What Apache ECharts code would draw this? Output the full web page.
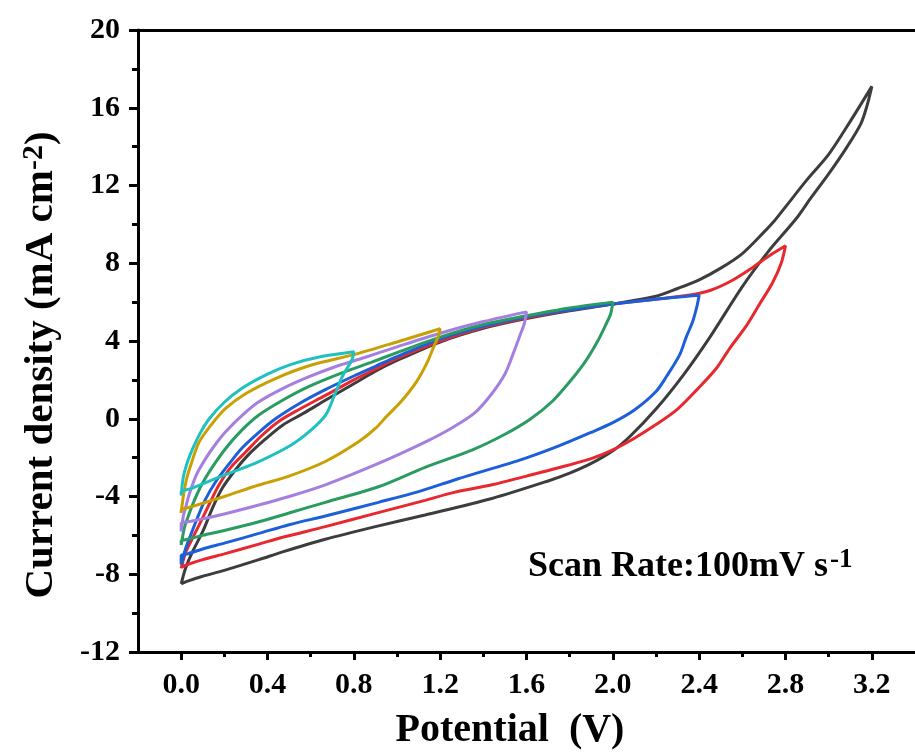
<!DOCTYPE html>
<html>
<head>
<meta charset="utf-8">
<script src="https://cdn.jsdelivr.net/npm/echarts@6/dist/echarts.min.js"></script>
<style>html,body{margin:0;padding:0;background:#fff}#c{width:915px;height:754px}</style>
</head>
<body>
<div id="c"></div>
<script>
// Potential windows (V)
const windows = ['0-3.2 V', '0-2.8 V', '0-2.4 V', '0-2.0 V', '0-1.6 V', '0-1.2 V', '0-0.8 V'];
const colors = ['#3d3d3d', '#e8282f', '#1c5fd8', '#2a9b61', '#a47fe0', '#c9a004', '#1fc1c0'];
const xMajor = [0, 0.4, 0.8, 1.2, 1.6, 2.0, 2.4, 2.8, 3.2];
const xMinor = [0.2, 0.6, 1.0, 1.4, 1.8, 2.2, 2.6, 3.0];

// [potential V, current density mA cm-2]
const loop32 = [[0,-8.5],[0.02,-7.7],[0.05,-6.9],[0.1,-5.8],[0.145,-4.6],[0.19,-3.58],[0.25,-2.65],[0.31,-1.87],[0.39,-1.05],[0.47,-0.33],[0.57,0.3],[0.668,0.95],[0.8,1.8],[0.9,2.45],[1.0,3.0],[1.2,3.95],[1.4,4.65],[1.6,5.15],[1.8,5.55],[2.0,5.9],[2.2,6.3],[2.3,6.7],[2.4,7.15],[2.5,7.75],[2.6,8.5],[2.7,9.6],[2.75,10.2],[2.8,10.9],[2.9,12.3],[3.0,13.6],[3.1,15.3],[3.2,17.1],
  [3.18,16.2],[3.15,15.2],[3.08,13.9],[3.0,12.6],[2.92,11.4],[2.85,10.3],[2.72,8.6],[2.6,6.8],[2.45,4.2],[2.33,2.3],[2.2,0.5],[2.08,-0.9],[2.0,-1.65],[1.9,-2.3],[1.8,-2.8],[1.7,-3.2],[1.44,-4.1],[1.13,-4.95],[0.9,-5.55],[0.668,-6.2],[0.47,-6.85],[0.36,-7.25],[0.2,-7.8],[0.1,-8.1],[0.03,-8.35],[0,-8.5]];
const loop28 = [[0,-7.7],[0.02,-6.9],[0.05,-6.2],[0.083,-5.47],[0.13,-4.4],[0.175,-3.41],[0.23,-2.5],[0.3,-1.7],[0.37,-0.9],[0.45,-0.15],[0.55,0.5],[0.668,1.2],[0.8,2.0],[0.9,2.55],[1.0,3.1],[1.2,4.0],[1.4,4.7],[1.6,5.2],[1.8,5.6],[2.0,5.9],[2.2,6.15],[2.35,6.35],[2.45,6.6],[2.55,7.1],[2.65,7.8],[2.72,8.35],[2.8,8.9],
  [2.78,8.0],[2.74,7.0],[2.68,5.9],[2.62,4.8],[2.54,3.6],[2.48,2.6],[2.39,1.5],[2.3,0.5],[2.2,-0.3],[2.1,-1.0],[2.0,-1.6],[1.9,-2.05],[1.74,-2.55],[1.6,-2.95],[1.44,-3.4],[1.26,-3.8],[1.13,-4.2],[0.9,-4.87],[0.668,-5.55],[0.47,-6.1],[0.36,-6.45],[0.2,-6.95],[0.1,-7.25],[0.03,-7.5],[0,-7.65]];
const loop24 = [[0,-7.5],[0.02,-6.7],[0.04,-6.1],[0.068,-5.3],[0.11,-4.2],[0.16,-3.24],[0.22,-2.35],[0.28,-1.53],[0.36,-0.7],[0.437,0.0],[0.55,0.8],[0.668,1.5],[0.8,2.2],[0.9,2.7],[1.0,3.2],[1.2,4.1],[1.4,4.75],[1.6,5.25],[1.8,5.6],[2.0,5.9],[2.2,6.15],[2.4,6.35],
  [2.39,5.8],[2.37,5.0],[2.34,4.2],[2.31,3.3],[2.25,2.2],[2.2,1.4],[2.1,0.45],[2.0,-0.2],[1.9,-0.7],[1.75,-1.4],[1.59,-2.05],[1.28,-3.1],[1.1,-3.75],[0.914,-4.3],[0.668,-5.0],[0.5,-5.45],[0.36,-5.9],[0.2,-6.4],[0.1,-6.7],[0.03,-6.95],[0,-7.05],[0,-7.5]];
const loop20 = [[0,-6.5],[0.015,-5.6],[0.03,-5.1],[0.052,-4.44],[0.09,-3.5],[0.13,-2.73],[0.206,-1.53],[0.28,-0.6],[0.36,0.19],[0.47,0.95],[0.59,1.65],[0.73,2.3],[0.88,2.9],[1.0,3.4],[1.2,4.2],[1.4,4.85],[1.6,5.3],[1.8,5.7],[2.0,6.0],
  [1.99,5.4],[1.97,4.9],[1.93,4.0],[1.87,2.9],[1.8,1.9],[1.72,0.9],[1.62,0.0],[1.5,-0.8],[1.35,-1.6],[1.13,-2.5],[0.914,-3.5],[0.668,-4.3],[0.5,-4.85],[0.36,-5.3],[0.2,-5.75],[0.1,-6.0],[0.03,-6.2],[0,-6.3],[0,-6.5]];
const loop16 = [[0,-5.8],[0.01,-5.0],[0.02,-4.6],[0.037,-3.9],[0.07,-2.9],[0.114,-2.04],[0.16,-1.3],[0.206,-0.67],[0.28,0.15],[0.36,0.87],[0.47,1.55],[0.59,2.15],[0.72,2.7],[0.85,3.15],[1.0,3.7],[1.2,4.4],[1.4,5.0],[1.6,5.5],
  [1.59,4.9],[1.57,4.3],[1.54,3.4],[1.5,2.3],[1.44,1.3],[1.36,0.3],[1.25,-0.5],[1.13,-1.2],[0.914,-2.3],[0.668,-3.4],[0.5,-4.0],[0.36,-4.44],[0.2,-4.9],[0.1,-5.15],[0.03,-5.3],[0,-5.4],[0,-5.8]];
const loop12 = [[0,-4.85],[0.01,-4.0],[0.025,-3.1],[0.05,-2.2],[0.083,-1.2],[0.14,-0.3],[0.206,0.53],[0.3,1.3],[0.437,2.07],[0.6,2.75],[0.8,3.3],[1.0,3.95],[1.2,4.63],
  [1.19,4.2],[1.17,3.7],[1.14,2.9],[1.09,1.9],[1.02,0.9],[0.95,0.1],[0.9,-0.5],[0.82,-1.2],[0.668,-2.2],[0.5,-2.95],[0.36,-3.41],[0.2,-4.0],[0.1,-4.35],[0.04,-4.55],[0,-4.7],[0,-4.85]];
const loop08 = [[0,-3.95],[0.01,-3.0],[0.03,-2.2],[0.055,-1.5],[0.09,-0.7],[0.13,0],[0.2,0.85],[0.28,1.56],[0.4,2.3],[0.51,2.8],[0.65,3.2],[0.8,3.45],
  [0.79,3.0],[0.75,2.25],[0.71,1.2],[0.67,0.2],[0.6,-0.6],[0.51,-1.35],[0.36,-2.2],[0.2,-2.9],[0.1,-3.35],[0.05,-3.58],[0,-3.75],[0,-3.95]];
const loops = [loop32, loop28, loop24, loop20, loop16, loop12, loop08];

const FONT = '"Liberation Serif","Times New Roman",serif';
const chart = echarts.init(document.getElementById('c'), null, {renderer: 'canvas'});
chart.setOption({
  animation: false,
  backgroundColor: '#fff',
  grid: {left: 138, top: 30, right: -4, bottom: 102, show: false},
  xAxis: [{
    type: 'value', min: -0.2, max: 3.4,
    axisLine: {show: true, onZero: false, lineStyle: {color: '#000', width: 3}},
    axisTick: {show: true, customValues: xMajor, length: 8, lineStyle: {color: '#000', width: 3}},
    axisLabel: {show: true, customValues: xMajor, margin: 18, color: '#000', fontFamily: FONT, fontWeight: 'bold', fontSize: 30,
      formatter: v => v.toFixed(1)},
    splitLine: {show: false}
  }, {
    type: 'value', min: -0.2, max: 3.4, position: 'bottom',
    axisLine: {show: false, onZero: false},
    axisTick: {show: true, customValues: xMinor, length: 5, lineStyle: {color: '#000', width: 3}},
    axisLabel: {show: false},
    splitLine: {show: false}
  }, {
    type: 'value', min: -0.2, max: 3.4, position: 'top',
    axisLine: {show: true, onZero: false, lineStyle: {color: '#000', width: 3}},
    axisTick: {show: false}, axisLabel: {show: false}, splitLine: {show: false}
  }],
  yAxis: {
    type: 'value', min: -12, max: 20, interval: 4,
    axisLine: {show: true, onZero: false, lineStyle: {color: '#000', width: 3}},
    axisTick: {show: true, length: 9, lineStyle: {color: '#000', width: 3}},
    minorTick: {show: true, splitNumber: 2, length: 6, lineStyle: {color: '#000', width: 3}},
    axisLabel: {margin: 18, color: '#000', fontFamily: FONT, fontWeight: 'bold', fontSize: 30},
    splitLine: {show: false}, minorSplitLine: {show: false}
  },
  graphic: [
    {type: 'text', x: 41, y: 365, rotation: Math.PI / 2, z: 10,
      style: {text: '{a|Current density (mA cm}{s|-2}{a|)}', textAlign: 'center', textVerticalAlign: 'middle', fill: '#000',
        rich: {a: {font: 'bold 41px ' + FONT, fill: '#000'}, s: {font: 'bold 30px ' + FONT, fill: '#000', verticalAlign: 'top', padding: [0, 0, 14, 0]}}}},
    {type: 'text', x: 510, y: 731, z: 10,
      style: {text: 'Potential  (V)', font: 'bold 40px ' + FONT, fill: '#000', textAlign: 'center', textVerticalAlign: 'middle'}},
    {type: 'text', x: 528, y: 567, z: 10,
      style: {text: '{a|Scan Rate:100mV s}{s|-1}', textAlign: 'left', textVerticalAlign: 'middle', fill: '#000',
        rich: {a: {font: 'bold 36px ' + FONT, fill: '#000'}, s: {font: 'bold 27px ' + FONT, fill: '#000', verticalAlign: 'top', padding: [0, 0, 14, 2]}}}}
  ],
  series: loops.map((d, i) => ({
    name: windows[i], type: 'line', data: d, xAxisIndex: 0, yAxisIndex: 0,
    showSymbol: false, smooth: 0.3, clip: true,
    lineStyle: {color: colors[i], width: 3}, itemStyle: {color: colors[i]}
  }))
});
</script>
</body>
</html>
